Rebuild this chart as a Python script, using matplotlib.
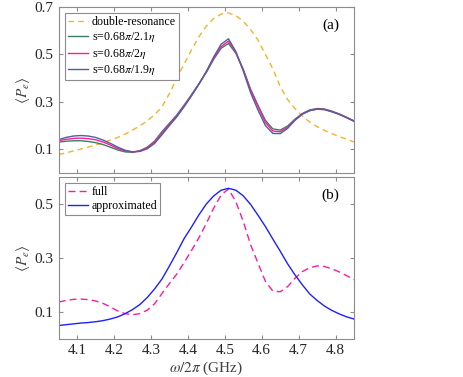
import matplotlib
matplotlib.use('Agg')
import matplotlib.pyplot as plt

plt.rcParams['font.family'] = ['Liberation Serif', 'DejaVu Serif']
plt.rcParams['mathtext.fontset'] = 'stix'
plt.rcParams['font.size'] = 9.5

# frequency grid (GHz)
freq = [4.05, 4.07, 4.09, 4.11, 4.13, 4.15, 4.17, 4.19, 4.21, 4.23, 4.25,
        4.27, 4.29, 4.31, 4.33, 4.35, 4.37, 4.39, 4.41, 4.43, 4.45, 4.47,
        4.49, 4.51, 4.53, 4.55, 4.57, 4.59, 4.61, 4.63, 4.65, 4.67, 4.69,
        4.71, 4.73, 4.75, 4.77, 4.79, 4.81, 4.83, 4.85]

double_res = [0.078, 0.085, 0.093, 0.101, 0.109, 0.118, 0.128, 0.139, 0.150, 0.164, 0.181,
              0.199, 0.220, 0.246, 0.280, 0.335, 0.400, 0.460, 0.520, 0.575, 0.620, 0.652,
              0.670, 0.675, 0.663, 0.640, 0.605, 0.560, 0.500, 0.440, 0.365, 0.310, 0.272,
              0.240, 0.215, 0.195, 0.180, 0.166, 0.154, 0.142, 0.131]

s_21 = [0.130, 0.134, 0.136, 0.136, 0.133, 0.128, 0.120, 0.109, 0.097, 0.089, 0.087,
        0.094, 0.109, 0.135, 0.175, 0.210, 0.245, 0.287, 0.331, 0.377, 0.424, 0.480,
        0.526, 0.546, 0.505, 0.437, 0.353, 0.285, 0.222, 0.186, 0.181, 0.198, 0.227,
        0.251, 0.266, 0.272, 0.270, 0.261, 0.249, 0.235, 0.220]

s_20 = [0.136, 0.142, 0.146, 0.147, 0.145, 0.140, 0.131, 0.118, 0.103, 0.093, 0.089,
        0.093, 0.106, 0.130, 0.168, 0.205, 0.240, 0.283, 0.328, 0.375, 0.428, 0.485,
        0.533, 0.556, 0.508, 0.435, 0.348, 0.280, 0.213, 0.177, 0.174, 0.193, 0.224,
        0.249, 0.263, 0.270, 0.268, 0.259, 0.248, 0.234, 0.219]

s_19 = [0.141, 0.150, 0.156, 0.158, 0.156, 0.150, 0.139, 0.125, 0.109, 0.096, 0.089,
        0.091, 0.102, 0.125, 0.162, 0.200, 0.237, 0.280, 0.326, 0.375, 0.428, 0.490,
        0.543, 0.566, 0.512, 0.430, 0.338, 0.265, 0.200, 0.167, 0.166, 0.188, 0.222,
        0.248, 0.263, 0.269, 0.267, 0.258, 0.247, 0.233, 0.218]

approx = [0.049, 0.052, 0.055, 0.058, 0.060, 0.063, 0.067, 0.073, 0.081, 0.093, 0.108,
          0.127, 0.153, 0.185, 0.222, 0.270, 0.320, 0.372, 0.415, 0.460, 0.500, 0.530,
          0.551, 0.558, 0.551, 0.530, 0.498, 0.458, 0.416, 0.370, 0.325, 0.278, 0.237,
          0.200, 0.166, 0.142, 0.121, 0.105, 0.092, 0.081, 0.073]

orange = '#F2B42A'
green = '#3D7F5E'
magenta = '#FF1AA0'
slate = '#4C62A0'
blue = '#1F1FFF'
grey = '#8C8C8C'

fig = plt.figure(figsize=(4.63, 3.77), dpi=100)
ax1 = fig.add_axes([0.1268, 0.5411, 0.6378, 0.4403])
ax2 = fig.add_axes([0.1268, 0.1016, 0.6378, 0.4289])

ax1.plot(freq, double_res, '--', color=orange, lw=1.0, dashes=(4, 3), label='double-resonance')
ax1.plot(freq, s_21, color=green, lw=1.0, label=r's=0.68$\pi$/2.1$\eta$')
ax1.plot(freq, s_20, color=magenta, lw=1.0, label=r's=0.68$\pi$/2$\eta$')
ax1.plot(freq, s_19, color=slate, lw=1.0, label=r's=0.68$\pi$/1.9$\eta$')

ax2.plot(freq, s_20, '--', color=magenta, lw=1.0, dashes=(5, 3), label='full')
ax2.plot(freq, approx, color=blue, lw=1.0, label='approximated')

for ax, lim, ticks, tag in [(ax1, (0, 0.7), [0.1, 0.3, 0.5, 0.7], '(a)'),
                            (ax2, (0, 0.6), [0.1, 0.3, 0.5], '(b)')]:
    ax.set_xlim(4.05, 4.85)
    ax.set_ylim(*lim)
    ax.set_yticks(ticks)
    ax.set_yticklabels([f'{t:.1f}' for t in ticks])
    ax.set_xticks([4.1, 4.2, 4.3, 4.4, 4.5, 4.6, 4.7, 4.8])
    ax.tick_params(direction='in', top=True, right=True, length=3, color=grey,
                   labelsize=11, labelcolor='#262626')
    for sp in ax.spines.values():
        sp.set_color(grey)
        sp.set_linewidth(0.8)
    ax.set_ylabel(r'$\langle P_e\rangle$', color='#404040', fontsize=11, labelpad=2)
    ax.text(0.95, 0.93, tag, transform=ax.transAxes, ha='right', va='top', fontsize=11)
    leg = ax.legend(loc='upper left', fontsize=8.6, fancybox=False, framealpha=1,
                    edgecolor=grey, handlelength=1.7, handletextpad=0.3,
                    borderpad=0.25, labelspacing=0.2, borderaxespad=0.5)
    leg.get_frame().set_linewidth(0.8)

ax1.tick_params(labelbottom=False)
ax2.set_xlabel(r'$\omega/2\pi$ (GHz)', fontsize=11, color='#404040', labelpad=2)

fig.savefig('out.png', dpi=100)
